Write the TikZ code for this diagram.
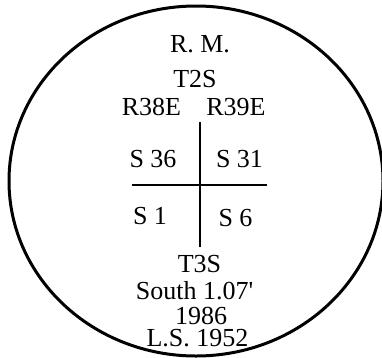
\documentclass[tikz,border=0pt]{standalone}
\usepackage{fontspec}
\setmainfont{Liberation Serif}[Ligatures=TeXOff]
\begin{document}
\begin{tikzpicture}[x=1pt,y=-1pt,
  lbl/.style={anchor=base,inner sep=0pt,font=\fontsize{26}{26}\selectfont},
  rim/.style={line width=3pt},
  rule/.style={line width=1.1pt}]
\useasboundingbox (0,0) rectangle (382,357);
\draw[rim] (196,181) ellipse [x radius=187, y radius=175];
\node[lbl] (rm) at (200,52) {R. M.};
\node[lbl] (t2s) at (195,87) {T2S};
\node[lbl] (r38) at (151.5,115) {R38E};
\node[lbl] (r39) at (236,115) {R39E};
\node[lbl] (s36) at (153,167) {S 36};
\node[lbl] (s31) at (239.5,167) {S 31};
\node[lbl] (s1) at (150,224) {S 1};
\node[lbl] (s6) at (235.5,226) {S 6};
\node[lbl] (t3s) at (199.5,272) {T3S};
\node[lbl] (south) at (194.5,299) {South 1.07'};
\node[lbl] (yr) at (201,324) {1986};
\node[lbl] (ls) at (197.5,346) {L.S. 1952};
\coordinate (vt) at (200,122);
\coordinate (vb) at (200,247);
\coordinate (hl) at (132,185);
\coordinate (hr) at (267,185);
\draw[rule] (vt) -- (vb);
\draw[rule] (hl) -- (hr);
\end{tikzpicture}
\end{document}
